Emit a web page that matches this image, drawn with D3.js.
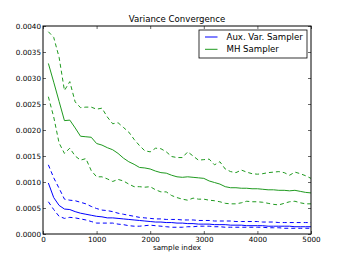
<!DOCTYPE html>
<html>
<head>
<meta charset="utf-8">
<script src="https://cdn.jsdelivr.net/npm/d3@7"></script>
<style>
  html, body { margin: 0; padding: 0; background: #fff; }
  svg text { font-family: "DejaVu Sans", sans-serif; }
</style>
</head>
<body>
<svg id="chart" width="346" height="260"></svg>
<script>
// sample index, one point per 100 samples
const sampleIndex = d3.range(100, 5001, 100);

// MH sampler: mean and upper / lower bands
const mhMean = [
  0.00328, 0.00292, 0.00255, 0.00218, 0.00219, 0.00204, 0.00188, 0.00187, 0.00186, 0.00174,
  0.00171, 0.00166, 0.00162, 0.00155, 0.00146, 0.00139, 0.00134, 0.00128, 0.00127, 0.00125,
  0.00121, 0.00118, 0.00117, 0.00113, 0.00110, 0.00109, 0.00110, 0.00109, 0.00108, 0.00107,
  0.00102, 0.00099, 0.00096, 0.00091, 0.00089, 0.00089, 0.00088, 0.00088, 0.00087, 0.00087,
  0.00086, 0.00085, 0.00085, 0.00084, 0.00084, 0.00083, 0.00084, 0.00082, 0.00080, 0.00079
];
const mhUpper = [
  0.00389, 0.00378, 0.00340, 0.00276, 0.00293, 0.00254, 0.00243, 0.00244, 0.00244, 0.00240,
  0.00242, 0.00225, 0.00212, 0.00214, 0.00205, 0.00196, 0.00182, 0.00170, 0.00160, 0.00158,
  0.00165, 0.00164, 0.00158, 0.00149, 0.00147, 0.00147, 0.00158, 0.00150, 0.00142, 0.00143,
  0.00144, 0.00133, 0.00139, 0.00125, 0.00120, 0.00118, 0.00123, 0.00119, 0.00116, 0.00115,
  0.00116, 0.00118, 0.00119, 0.00120, 0.00118, 0.00113, 0.00119, 0.00116, 0.00112, 0.00107
];
const mhLower = [
  0.00264, 0.00225, 0.00175, 0.00155, 0.00165, 0.00150, 0.00142, 0.00145, 0.00122, 0.00110,
  0.00110, 0.00106, 0.00101, 0.00105, 0.00102, 0.00096, 0.00091, 0.00091, 0.00090, 0.00091,
  0.00085, 0.00081, 0.00081, 0.00074, 0.00070, 0.00067, 0.00065, 0.00069, 0.00067, 0.00067,
  0.00065, 0.00064, 0.00062, 0.00059, 0.00058, 0.00058, 0.00060, 0.00063, 0.00062, 0.00062,
  0.00061, 0.00059, 0.00057, 0.00056, 0.00059, 0.00062, 0.00063, 0.00060, 0.00058, 0.00058
];

// auxiliary variable sampler: mean and upper / lower bands
const auxMean = [
  0.00098, 0.00070, 0.00055, 0.00048, 0.00047, 0.00043, 0.00040, 0.00038, 0.00036, 0.00034,
  0.00033, 0.00031, 0.00031, 0.00030, 0.00029, 0.00028, 0.00027, 0.00026, 0.00025, 0.00024,
  0.00023, 0.00023, 0.00022, 0.00022, 0.00021, 0.00021, 0.00020, 0.00020, 0.00019, 0.00019,
  0.00019, 0.00018, 0.00018, 0.00018, 0.00017, 0.00017, 0.00017, 0.00016, 0.00016, 0.00016,
  0.00016, 0.00015, 0.00015, 0.00015, 0.00015, 0.00015, 0.00014, 0.00014, 0.00014, 0.00014
];
const auxUpper = [
  0.00133, 0.00108, 0.00088, 0.00067, 0.00065, 0.00064, 0.00061, 0.00058, 0.00053, 0.00049,
  0.00046, 0.00045, 0.00043, 0.00040, 0.00038, 0.00036, 0.00034, 0.00032, 0.00031, 0.00030,
  0.00029, 0.00029, 0.00028, 0.00028, 0.00028, 0.00027, 0.00027, 0.00027, 0.00026, 0.00026,
  0.00026, 0.00025, 0.00025, 0.00025, 0.00025, 0.00024, 0.00024, 0.00024, 0.00024, 0.00024,
  0.00023, 0.00023, 0.00023, 0.00022, 0.00022, 0.00022, 0.00022, 0.00022, 0.00022, 0.00022
];
const auxLower = [
  0.00062, 0.00047, 0.00034, 0.00030, 0.00032, 0.00031, 0.00029, 0.00027, 0.00024, 0.00021,
  0.00021, 0.00021, 0.00021, 0.00019, 0.00018, 0.00016, 0.00015, 0.00015, 0.00016, 0.00017,
  0.00016, 0.00015, 0.00014, 0.00013, 0.00013, 0.00013, 0.00014, 0.00014, 0.00015, 0.00015,
  0.00015, 0.00014, 0.00014, 0.00013, 0.00013, 0.00013, 0.00013, 0.00013, 0.00013, 0.00013,
  0.00013, 0.00012, 0.00012, 0.00012, 0.00011, 0.00011, 0.00011, 0.00011, 0.00011, 0.00011
];

const xTicks = [0, 1000, 2000, 3000, 4000, 5000];
const yTicks = [0, 0.0005, 0.001, 0.0015, 0.002, 0.0025, 0.003, 0.0035, 0.004];
const legendLabels = ["Aux. Var. Sampler", "MH Sampler"];

const blue = "#0000ff";
const green = "#1f9a1f";

const svg = d3.select("#chart");
const margin = { left: 43, top: 26, right: 35, bottom: 26 };
const W = 346 - margin.left - margin.right;
const H = 260 - margin.top - margin.bottom;

const x = d3.scaleLinear().domain([0, 5000]).range([0, W]);
const y = d3.scaleLinear().domain([0, 0.004]).range([H, 0]);

const g = svg.append("g").attr("transform", `translate(${margin.left},${margin.top})`);

// series
const line = d3.line().x((d, i) => x(sampleIndex[i])).y(d => y(d));
const series = [
  { vals: mhUpper, color: green, dash: "4,3" },
  { vals: mhLower, color: green, dash: "4,3" },
  { vals: mhMean, color: green, dash: null },
  { vals: auxUpper, color: blue, dash: "4,3" },
  { vals: auxLower, color: blue, dash: "4,3" },
  { vals: auxMean, color: blue, dash: null }
];
series.forEach(s => {
  g.append("path")
    .attr("d", line(s.vals))
    .attr("fill", "none")
    .attr("stroke", s.color)
    .attr("stroke-width", 1)
    .attr("stroke-dasharray", s.dash);
});

// axes, ticks inside like old matplotlib
const fmt = d3.format(".4f");
const axB = g.append("g").attr("transform", `translate(0,${H})`)
  .call(d3.axisBottom(x).tickValues(xTicks).tickSize(-3).tickPadding(2.5).tickFormat(d3.format("d")));
const axL = g.append("g")
  .call(d3.axisLeft(y).tickValues(yTicks).tickSize(-3).tickPadding(2).tickFormat(fmt));
const axT = g.append("g")
  .call(d3.axisTop(x).tickValues(xTicks).tickSize(-3).tickFormat(""));
const axR = g.append("g").attr("transform", `translate(${W},0)`)
  .call(d3.axisRight(y).tickValues(yTicks).tickSize(-3).tickFormat(""));

[axB, axL, axT, axR].forEach(a => {
  a.select(".domain").remove();
  a.selectAll("line").attr("stroke", "#000").attr("stroke-width", 0.6);
  a.selectAll("text").attr("font-size", 7.2).attr("fill", "#000")
    .attr("font-family", "DejaVu Sans, sans-serif");
});

g.append("rect").attr("width", W).attr("height", H)
  .attr("fill", "none").attr("stroke", "#000").attr("stroke-width", 1);

// title and x label
g.append("text").attr("x", W / 2).attr("y", -4).attr("text-anchor", "middle")
  .attr("font-size", 8.6).text("Variance Convergence");
g.append("text").attr("x", W / 2).attr("y", H + 15.5).attr("text-anchor", "middle")
  .attr("font-size", 7.2).text("sample index");

// legend
const lg = g.append("g").attr("transform", `translate(${W - 112},4)`);
lg.append("rect").attr("width", 108).attr("height", 28)
  .attr("fill", "#fff").attr("stroke", "#000").attr("stroke-width", 0.8);
[blue, green].forEach((c, i) => {
  const yy = 7 + i * 12.3;
  lg.append("line").attr("x1", 6).attr("x2", 18.5).attr("y1", yy).attr("y2", yy)
    .attr("stroke", c).attr("stroke-width", 1);
  lg.append("text").attr("x", 27.5).attr("y", yy + 3)
    .attr("font-size", 8.6).text(legendLabels[i]);
});
</script>
</body>
</html>
